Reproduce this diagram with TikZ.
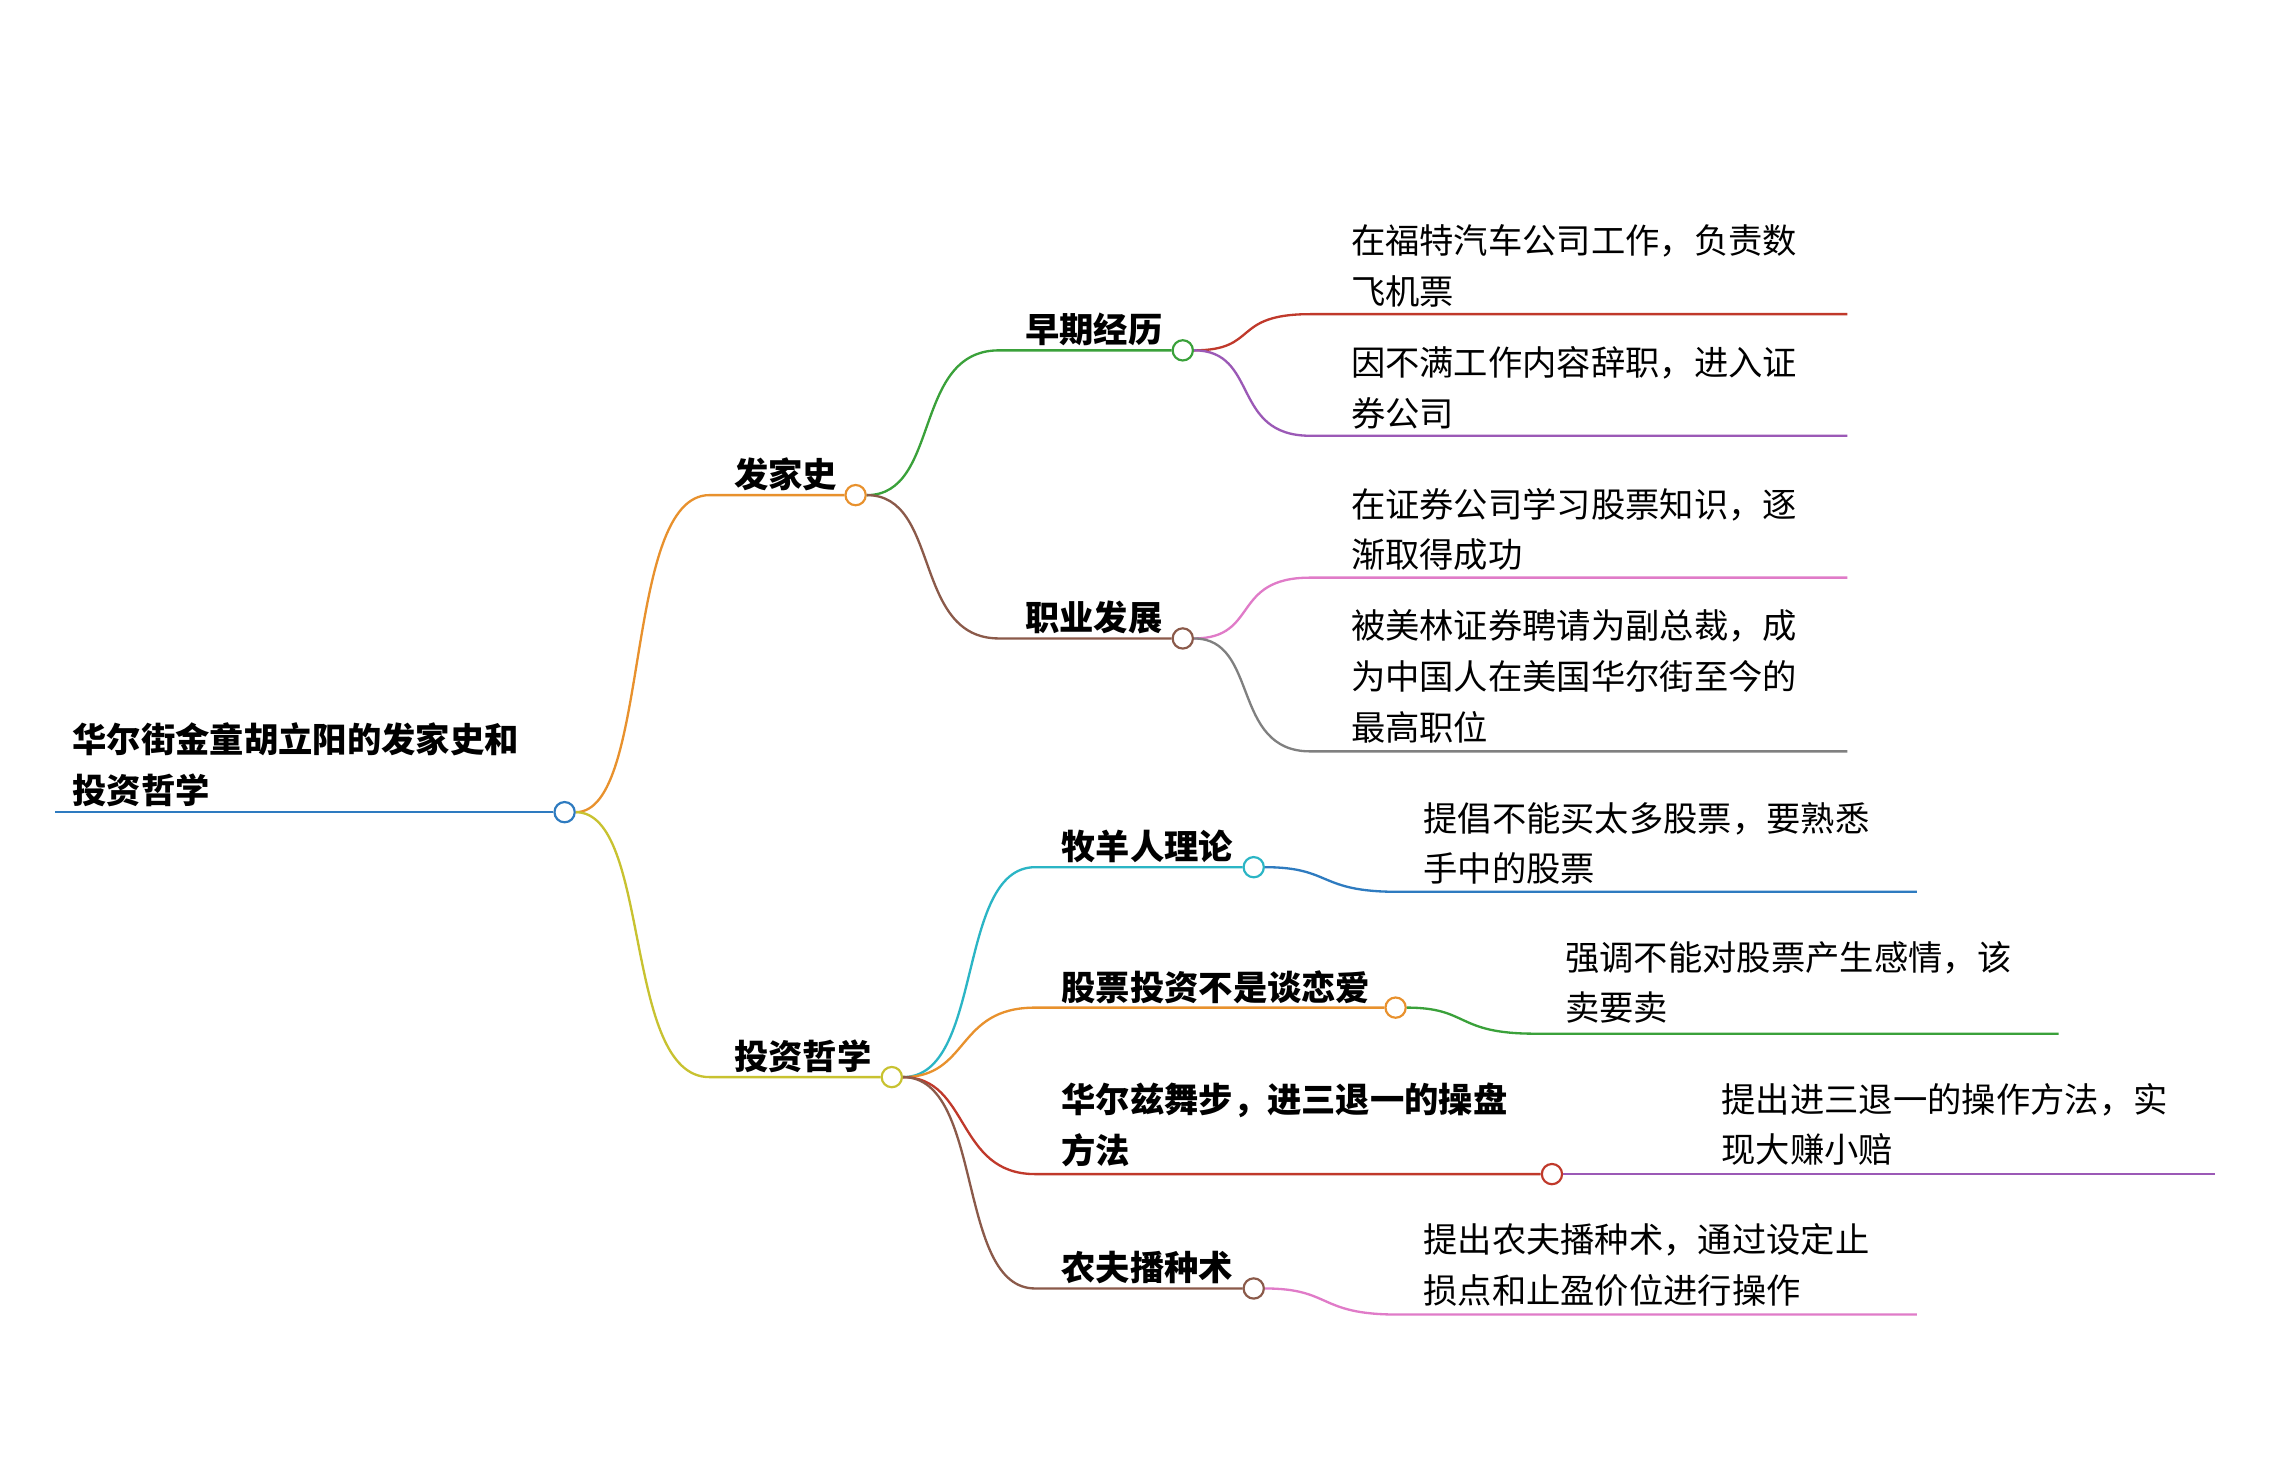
\documentclass[tikz,border=0pt]{standalone}
\usepackage{fontspec}
\setmainfont{Noto Sans CJK SC}
\begin{document}
\begin{tikzpicture}[x=1pt,y=-1pt,
 ln/.style={line width=1.6pt},
 dot/.style={circle,draw,fill=white,line width=1.5pt,minimum size=14pt,inner sep=0},
 lab/.style={anchor=north west,inner sep=0,align=left,font=\fontsize{23.7}{35}\selectfont,yshift=-7pt},
 blab/.style={lab,font=\fontsize{23.7}{35}\selectfont\bfseries}]
\definecolor{cblue}{HTML}{2E7BC0}\definecolor{corange}{HTML}{E8912D}
\definecolor{colive}{HTML}{C8C230}\definecolor{cgreen}{HTML}{3AA13A}
\definecolor{cbrown}{HTML}{8B5A4A}\definecolor{cred}{HTML}{C0392B}
\definecolor{cpurple}{HTML}{9B59B6}\definecolor{cpink}{HTML}{E07BC8}
\definecolor{cgray}{HTML}{808080}\definecolor{cteal}{HTML}{2BB5C5}
\useasboundingbox[fill=white] (0,0) rectangle (1568,1020);
% root
\coordinate (r0) at (38,561);
\node[dot,draw=cblue] (r) at (390,561) {};
\draw[ln,cblue] (r0) -- (r);
\node[blab] (rt) at (50,492) {华尔街金童胡立阳的发家史和\\投资哲学};
% level 1
\node[dot,draw=corange] (a) at (591,342) {};
\coordinate (a0) at (490,342);
\draw[ln,corange] (r) .. controls (450,561) and (430,342) .. (a0) -- (a);
\node[blab] (at) at (507,309) {发家史};
\node[dot,draw=colive] (b) at (616,744) {};
\coordinate (b0) at (490,744);
\draw[ln,colive] (r) .. controls (450,561) and (430,744) .. (b0) -- (b);
\node[blab] (bt) at (507,711) {投资哲学};
% 早期经历
\node[dot,draw=cgreen] (a1) at (817,242) {};
\coordinate (a10) at (690,242);
\draw[ln,cgreen] (a) .. controls (650,342) and (630,242) .. (a10) -- (a1);
\node[blab] (a1t) at (708,209) {早期经历};
\coordinate (l1) at (905,217); \coordinate (l1e) at (1276,217);
\draw[ln,cred] (a1) .. controls (870,242) and (850,217) .. (l1) -- (l1e);
\node[lab] (l1t) at (933,148) {在福特汽车公司工作，负责数\\飞机票};
\coordinate (l2) at (905,301); \coordinate (l2e) at (1276,301);
\draw[ln,cpurple] (a1) .. controls (870,242) and (850,301) .. (l2) -- (l2e);
\node[lab] (l2t) at (933,232) {因不满工作内容辞职，进入证\\券公司};
% 职业发展
\node[dot,draw=cbrown] (a2) at (817,441) {};
\coordinate (a20) at (690,441);
\draw[ln,cbrown] (a) .. controls (650,342) and (630,441) .. (a20) -- (a2);
\node[blab] (a2t) at (708,408) {职业发展};
\coordinate (l3) at (905,399); \coordinate (l3e) at (1276,399);
\draw[ln,cpink] (a2) .. controls (870,441) and (850,399) .. (l3) -- (l3e);
\node[lab] (l3t) at (933,330) {在证券公司学习股票知识，逐\\渐取得成功};
\coordinate (l4) at (905,519); \coordinate (l4e) at (1276,519);
\draw[ln,cgray] (a2) .. controls (870,441) and (850,519) .. (l4) -- (l4e);
\node[lab] (l4t) at (933,414) {被美林证券聘请为副总裁，成\\为中国人在美国华尔街至今的\\最高职位};
% 牧羊人理论
\node[dot,draw=cteal] (b1) at (866,599) {};
\coordinate (b10) at (715,599);
\draw[ln,cteal] (b) .. controls (680,744) and (660,599) .. (b10) -- (b1);
\node[blab] (b1t) at (733,566) {牧羊人理论};
\coordinate (m1) at (965,616); \coordinate (m1e) at (1324,616);
\draw[ln,cblue] (b1) .. controls (920,599) and (910,616) .. (m1) -- (m1e);
\node[lab] (m1t) at (983,547) {提倡不能买太多股票，要熟悉\\手中的股票};
% 股票投资不是谈恋爱
\node[dot,draw=corange] (b2) at (964,696) {};
\coordinate (b20) at (715,696);
\draw[ln,corange] (b) .. controls (670,744) and (660,696) .. (b20) -- (b2);
\node[blab] (b2t) at (733,663) {股票投资不是谈恋爱};
\coordinate (m2) at (1060,714); \coordinate (m2e) at (1422,714);
\draw[ln,cgreen] (b2) .. controls (1015,696) and (1005,714) .. (m2) -- (m2e);
\node[lab] (m2t) at (1081,643) {强调不能对股票产生感情，该\\卖要卖};
% 华尔兹
\node[dot,draw=cred] (b3) at (1072,811) {};
\coordinate (b30) at (715,811);
\draw[ln,cred] (b) .. controls (670,744) and (660,811) .. (b30) -- (b3);
\node[blab] (b3t) at (733,741) {华尔兹舞步，进三退一的操盘\\方法};
\coordinate (m3e) at (1530,811);
\draw[ln,cpurple] (b3) -- (m3e);
\node[lab] (m3t) at (1189,741) {提出进三退一的操作方法，实\\现大赚小赔};
% 农夫播种术
\node[dot,draw=cbrown] (b4) at (866,890) {};
\coordinate (b40) at (715,890);
\draw[ln,cbrown] (b) .. controls (680,744) and (660,890) .. (b40) -- (b4);
\node[blab] (b4t) at (733,857) {农夫播种术};
\coordinate (m4) at (965,908); \coordinate (m4e) at (1324,908);
\draw[ln,cpink] (b4) .. controls (920,890) and (910,908) .. (m4) -- (m4e);
\node[lab] (m4t) at (983,838) {提出农夫播种术，通过设定止\\损点和止盈价位进行操作};
\end{tikzpicture}
\end{document}
